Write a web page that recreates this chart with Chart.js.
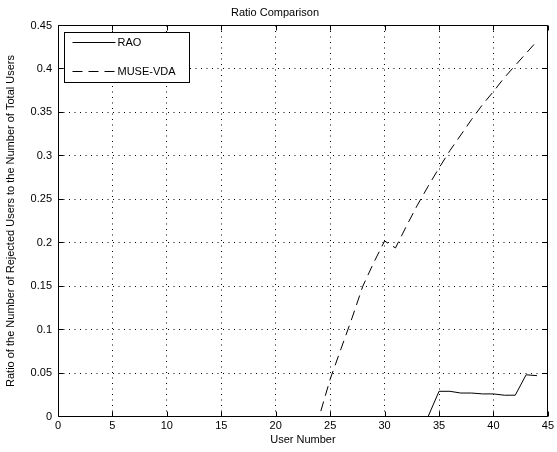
<!DOCTYPE html>
<html>
<head>
<meta charset="utf-8">
<script src="https://cdn.jsdelivr.net/npm/chart.js@4.4.0/dist/chart.umd.min.js"></script>
<style>
  html, body { margin: 0; padding: 0; background: #fff; }
  #wrap { width: 557px; height: 452px; }
</style>
</head>
<body>
<div id="wrap"><canvas id="ratioChart" width="557" height="452"></canvas></div>
<script>
// user numbers on the x axis
const users = [1, 2, 3, 4, 5, 6, 7, 8, 9, 10, 11, 12, 13, 14, 15, 16, 17, 18, 19, 20, 21, 22,
  23, 24, 25, 26, 27, 28, 29, 30, 31, 32, 33, 34, 35, 36, 37, 38, 39, 40, 41, 42, 43, 44];

const raoRatio = [0, 0, 0, 0, 0, 0, 0, 0, 0, 0, 0, 0, 0, 0, 0, 0, 0, 0, 0, 0, 0, 0,
  0, 0, 0, 0, 0, 0, 0, 0, 0, 0, 0, 0, 0.029, 0.029, 0.027, 0.027, 0.026, 0.026, 0.0245, 0.0245, 0.048, 0.047];

const museRatio = [0, 0, 0, 0, 0, 0, 0, 0, 0, 0, 0, 0, 0, 0, 0, 0, 0, 0, 0, 0, 0, 0,
  0, 0, 0.043, 0.078, 0.113, 0.150, 0.177, 0.202, 0.194, 0.219, 0.243, 0.265, 0.286, 0.306,
  0.324, 0.342, 0.359, 0.374, 0.390, 0.404, 0.418, 0.432];

const xTicks = [0, 5, 10, 15, 20, 25, 30, 35, 40, 45];
const yTicks = [0, 0.05, 0.1, 0.15, 0.2, 0.25, 0.3, 0.35, 0.4, 0.45];

const FONT = "'Liberation Sans', Arial, Helvetica, sans-serif";
const dotted = [1, 4.5];
const dashed = [10, 6];

// frame, inward tick marks and the legend box, matlab style
const matlabFrame = {
  id: "matlabFrame",
  afterDatasetsDraw(chart) {
    const { ctx, chartArea: a, scales } = chart;
    const L = Math.round(a.left) + 0.5, R = Math.round(a.right) - 0.5;
    const T = a.top, B = a.bottom;
    ctx.save();
    ctx.strokeStyle = "#000";
    ctx.lineWidth = 1;
    ctx.setLineDash([]);
    ctx.beginPath();
    xTicks.forEach(v => {
      const px = Math.round(scales.x.getPixelForValue(v)) + 0.5;
      ctx.moveTo(px, B); ctx.lineTo(px, B - 5);
      ctx.moveTo(px, T); ctx.lineTo(px, T + 5);
    });
    yTicks.forEach(v => {
      const py = Math.round(scales.y.getPixelForValue(v) - 0.5) + 0.5;
      ctx.moveTo(L, py); ctx.lineTo(L + 5, py);
      ctx.moveTo(R, py); ctx.lineTo(R - 5, py);
    });
    ctx.moveTo(L, T); ctx.lineTo(R, T); ctx.lineTo(R, B); ctx.lineTo(L, B); ctx.closePath();
    ctx.stroke();

    // legend
    const lx = a.left + 6.5, ly = Math.round(a.top) + 6.5, lw = 125, lh = 50;
    ctx.fillStyle = "#fff";
    ctx.fillRect(lx, ly, lw, lh);
    ctx.strokeRect(lx, ly, lw, lh);
    ctx.font = "11px " + FONT;
    ctx.textBaseline = "middle";
    ctx.fillStyle = "#000";
    chart.data.datasets.forEach((ds, i) => {
      const y = ly + 10 + i * 29;
      ctx.setLineDash(ds.borderDash || []);
      ctx.beginPath();
      ctx.moveTo(lx + 8, y);
      ctx.lineTo(lx + 51, y);
      ctx.stroke();
      ctx.setLineDash([]);
      ctx.fillText(ds.label, lx + 53, y);
    });
    ctx.restore();
  }
};

new Chart(document.getElementById("ratioChart"), {
  type: "line",
  data: {
    datasets: [
      {
        label: "RAO",
        data: users.map((u, i) => ({ x: u, y: raoRatio[i] })),
        borderColor: "#000",
        borderWidth: 1,
        pointRadius: 0,
        tension: 0
      },
      {
        label: "MUSE-VDA",
        data: users.map((u, i) => ({ x: u, y: museRatio[i] })),
        borderColor: "#000",
        borderWidth: 1,
        borderDash: dashed,
        pointRadius: 0,
        tension: 0
      }
    ]
  },
  options: {
    responsive: false,
    animation: false,
    layout: { padding: { left: 0, right: 7, top: 0, bottom: 0 } },
    plugins: {
      legend: { display: false },
      tooltip: { enabled: false },
      title: {
        display: true,
        text: "Ratio Comparison",
        color: "#000",
        font: { family: FONT, size: 11, weight: "normal" },
        padding: { top: 6, bottom: 6.3 }
      }
    },
    scales: {
      x: {
        type: "linear",
        min: 0,
        max: 45,
        afterBuildTicks: s => { s.ticks = xTicks.map(v => ({ value: v })); },
        afterFit: s => { s.height = 35.5; },
        ticks: { color: "#000", font: { family: FONT, size: 11 }, padding: 3, maxRotation: 0 },
        grid: {
          color: ctx => (ctx.tick && (ctx.tick.value === 0 || ctx.tick.value === 45)) ? "rgba(0,0,0,0)" : "#000",
          lineWidth: 1,
          drawTicks: false
        },
        border: { display: false, dash: dotted },
        title: {
          display: true,
          text: "User Number",
          color: "#000",
          font: { family: FONT, size: 11 },
          padding: { top: 0, bottom: 5 }
        }
      },
      y: {
        min: 0,
        max: 0.45,
        afterBuildTicks: s => { s.ticks = yTicks.map(v => ({ value: v })); },
        afterFit: s => { s.width = 58; },
        ticks: {
          color: "#000",
          font: { family: FONT, size: 11 },
          padding: 6,
          callback: v => String(Number(v.toFixed(2)))
        },
        grid: {
          color: ctx => (ctx.tick && (ctx.tick.value === 0 || ctx.tick.value === 0.45)) ? "rgba(0,0,0,0)" : "#000",
          lineWidth: 1,
          drawTicks: false
        },
        border: { display: false, dash: dotted },
        title: {
          display: true,
          text: "Ratio of the Number of Rejected Users to the Number of Total Users",
          color: "#000",
          font: { family: FONT, size: 11 },
          padding: { top: 4, bottom: 0 }
        }
      }
    }
  },
  plugins: [matlabFrame]
});
</script>
</body>
</html>
